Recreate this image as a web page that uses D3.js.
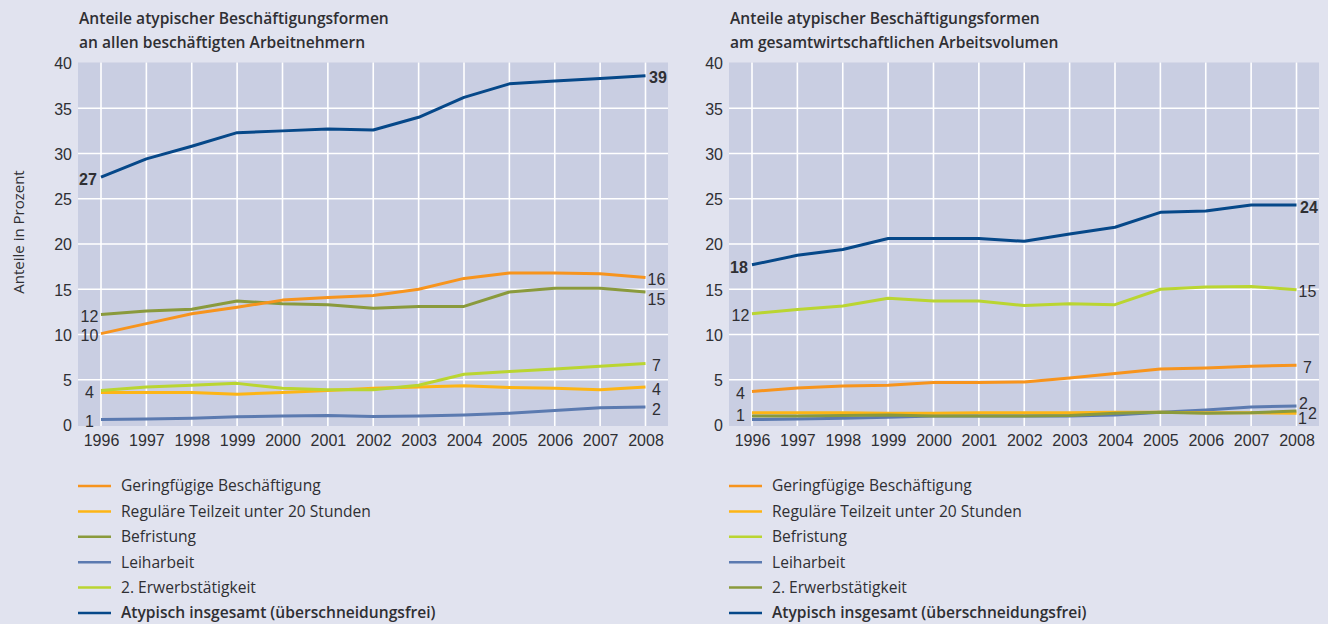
<!DOCTYPE html>
<html><head><meta charset="utf-8">
<script src="https://cdn.jsdelivr.net/npm/d3@7"></script>
<style>
html,body{margin:0;padding:0;background:#e1e3ef;}
svg{display:block;}
</style></head>
<body>
<svg id="chart" width="1328" height="624"></svg>
<script>
// ---------- data ----------
const years = [1996,1997,1998,1999,2000,2001,2002,2003,2004,2005,2006,2007,2008];
const yTicks = [0,5,10,15,20,25,30,35,40];

const leftTitle = ["Anteile atypischer Beschäftigungsformen","an allen beschäftigten Arbeitnehmern"];
const rightTitle = ["Anteile atypischer Beschäftigungsformen","am gesamtwirtschaftlichen Arbeitsvolumen"];
const yAxisTitle = "Anteile in Prozent";

const seriesNames = ["Geringfügige Beschäftigung","Reguläre Teilzeit unter 20 Stunden","Befristung","Leiharbeit","2. Erwerbstätigkeit","Atypisch insgesamt (überschneidungsfrei)"];

// left panel: share of employees
const leftGering   = [10.1,11.2,12.3,13.0,13.8,14.1,14.3,15.0,16.2,16.8,16.8,16.7,16.3];
const leftTeilzeit = [3.6,3.6,3.6,3.4,3.6,3.8,4.05,4.2,4.35,4.15,4.05,3.9,4.2];
const leftBefrist  = [12.2,12.6,12.8,13.7,13.4,13.3,12.9,13.1,13.1,14.7,15.1,15.1,14.7];
const leftLeih     = [0.6,0.65,0.75,0.9,1.0,1.05,0.95,1.0,1.1,1.3,1.6,1.9,2.0];
const leftZweit    = [3.8,4.2,4.4,4.6,4.05,3.9,3.9,4.4,5.6,5.9,6.2,6.5,6.8];
const leftGesamt   = [27.4,29.4,30.8,32.3,32.5,32.7,32.6,34.0,36.2,37.7,38.0,38.3,38.6];

// right panel: share of total working volume
const rightGering   = [3.7,4.1,4.3,4.4,4.7,4.7,4.75,5.2,5.7,6.2,6.3,6.5,6.6];
const rightTeilzeit = [1.35,1.35,1.35,1.3,1.3,1.35,1.35,1.35,1.4,1.4,1.35,1.35,1.3];
const rightBefrist  = [12.3,12.75,13.15,14.0,13.7,13.7,13.2,13.4,13.3,15.0,15.25,15.3,14.95];
const rightLeih     = [0.6,0.65,0.75,0.85,1.0,1.0,1.0,1.0,1.1,1.4,1.65,2.0,2.1];
const rightZweit    = [1.0,1.0,1.05,1.1,1.0,1.0,1.0,1.05,1.3,1.4,1.3,1.35,1.55];
const rightGesamt   = [17.7,18.75,19.4,20.6,20.6,20.6,20.3,21.1,21.85,23.5,23.65,24.3,24.3];

// ---------- style ----------
const C = {orange:"#f7941d", yellow:"#fdb515", olive:"#8a9a3c", blue:"#5b7ab0", lime:"#bad531", navy:"#064889"};
const textCol = "#2f2f33";
const plotBg = "#c9cee2";

const svg = d3.select("#chart");
svg.append("rect").attr("width",1328).attr("height",624).attr("fill","#e1e3ef");

function panel(cfg){
  const x0 = cfg.left, x1 = cfg.left + 590, yTop = 63, yBot = 425;
  const x = d3.scaleLinear().domain([years[0], years[years.length-1]]).range([x0+23, x1-22.5]);
  const y = d3.scaleLinear().domain([0,40]).range([yBot, yTop]);
  const g = svg.append("g");

  // title
  g.append("text").attr("x", x0+1).attr("y", 24)
    .attr("font-family","'Open Sans',sans-serif").attr("font-weight",600).attr("font-size",15.6)
    .attr("fill",textCol)
    .selectAll("tspan").data(cfg.title).join("tspan")
    .attr("x", x0+1).attr("dy",(d,i)=> i===0?0:24).text(d=>d);

  // plot bg
  g.append("rect").attr("x",x0).attr("y",yTop-0.5).attr("width",x1-x0).attr("height",yBot-yTop+1.5).attr("fill",plotBg);

  // grid
  g.append("g").selectAll("line").data(yTicks.filter(t=>t>0 && t<40)).join("line")
    .attr("x1",x0).attr("x2",x1).attr("y1",d=>y(d)).attr("y2",d=>y(d))
    .attr("stroke","#fff").attr("stroke-width",1.6);
  g.append("g").selectAll("line").data(years).join("line")
    .attr("x1",d=>x(d)).attr("x2",d=>x(d)).attr("y1",yTop-0.5).attr("y2",yBot+1)
    .attr("stroke","#fff").attr("stroke-width",1.6);

  // y axis
  const ya = g.append("g").attr("transform",`translate(${x0-6},0)`)
    .call(d3.axisLeft(y).tickValues(yTicks).tickSize(0).tickPadding(0));
  ya.select(".domain").remove();
  ya.selectAll("text").attr("font-family","'Liberation Sans',Arial,sans-serif").attr("font-size",16).attr("fill",textCol).attr("dy","0.36em");

  // x axis
  const xa = g.append("g").attr("transform",`translate(0,${yBot})`)
    .call(d3.axisBottom(x).tickValues(years).tickFormat(d3.format("d")).tickSize(0).tickPadding(10));
  xa.select(".domain").remove();
  xa.selectAll("text").attr("font-family","'Liberation Sans',Arial,sans-serif").attr("font-size",16).attr("fill",textCol).attr("dy","0.71em");

  // lines
  const line = d3.line().x((d,i)=>x(years[i])).y(d=>y(d));
  cfg.series.forEach(s=>{
    g.append("path").datum(s.values).attr("d",line).attr("fill","none")
      .attr("stroke",s.color).attr("stroke-width",3).attr("stroke-linejoin","round");
  });

  // labels
  const fnt = "'Liberation Sans',Arial,sans-serif";
  cfg.series.forEach(s=>{
    const bold = s.bold ? 700 : 400;
    if (s.startLabel){
      const v = s.values[0];
      g.append("text").attr("x", x(years[0]) - 11.5 + (s.sdx||0)).attr("y", y(v) + 2 + (s.sdy||0))
        .attr("text-anchor","middle").attr("dy","0.36em").attr("font-family",fnt).attr("font-size",16)
        .attr("font-weight",bold).attr("fill",textCol).text(Math.round(v));
    }
    if (s.endLabel){
      const v = s.values[s.values.length-1];
      g.append("text").attr("x", x(years[years.length-1]) + 11 + (s.edx||0)).attr("y", y(v) + 2 + (s.edy||0))
        .attr("text-anchor","middle").attr("dy","0.36em").attr("font-family",fnt).attr("font-size",16)
        .attr("font-weight",bold).attr("fill",textCol).text(Math.round(v));
    }
  });

  // legend
  const lg = g.append("g");
  cfg.legend.forEach((s,i)=>{
    const ly = 486 + i*25.4;
    lg.append("line").attr("x1",x0).attr("x2",x0+33).attr("y1",ly).attr("y2",ly)
      .attr("stroke",s.color).attr("stroke-width",2.5);
    lg.append("text").attr("x",x0+43).attr("y",ly).attr("dy","0.35em")
      .attr("font-family","'Open Sans',sans-serif").attr("font-size",15.6)
      .attr("font-weight", i===5?600:400).attr("fill",textCol).text(s.name);
  });
}

// left panel config (draw order bottom->top)
panel({
  left: 78,
  title: leftTitle,
  series: [
    {values:leftLeih, color:C.blue, startLabel:true, endLabel:true},
    {values:leftTeilzeit, color:C.yellow, startLabel:false, endLabel:true},
    {values:leftZweit, color:C.lime, startLabel:true, endLabel:true},
    {values:leftBefrist, color:C.olive, startLabel:true, endLabel:true, edy:5},
    {values:leftGering, color:C.orange, startLabel:true, endLabel:true},
    {values:leftGesamt, color:C.navy, startLabel:true, endLabel:true, bold:true, sdx:-1.5, edx:1.5}
  ],
  legend: [
    {name:seriesNames[0], color:C.orange},
    {name:seriesNames[1], color:C.yellow},
    {name:seriesNames[2], color:C.olive},
    {name:seriesNames[3], color:C.blue},
    {name:seriesNames[4], color:C.lime},
    {name:seriesNames[5], color:C.navy}
  ]
});

panel({
  left: 729,
  title: rightTitle,
  series: [
    {values:rightLeih, color:C.blue, startLabel:false, endLabel:true, edx:-4, edy:-5},
    {values:rightTeilzeit, color:C.yellow, startLabel:true, endLabel:true, edx:-5, edy:3},
    {values:rightZweit, color:C.olive, startLabel:false, endLabel:true, edx:5},
    {values:rightBefrist, color:C.lime, startLabel:true, endLabel:true},
    {values:rightGering, color:C.orange, startLabel:true, endLabel:true},
    {values:rightGesamt, color:C.navy, startLabel:true, endLabel:true, bold:true, sdx:-1.5, edx:1.5}
  ],
  legend: [
    {name:seriesNames[0], color:C.orange},
    {name:seriesNames[1], color:C.yellow},
    {name:seriesNames[2], color:C.lime},
    {name:seriesNames[3], color:C.blue},
    {name:seriesNames[4], color:C.olive},
    {name:seriesNames[5], color:C.navy}
  ]
});

// y axis title
svg.append("text").attr("transform","translate(18.5,232) rotate(-90)")
  .attr("text-anchor","middle").attr("dy","0.35em")
  .attr("font-family","'Open Sans',sans-serif").attr("font-size",15).attr("fill",textCol)
  .text(yAxisTitle);
</script>
</body></html>
